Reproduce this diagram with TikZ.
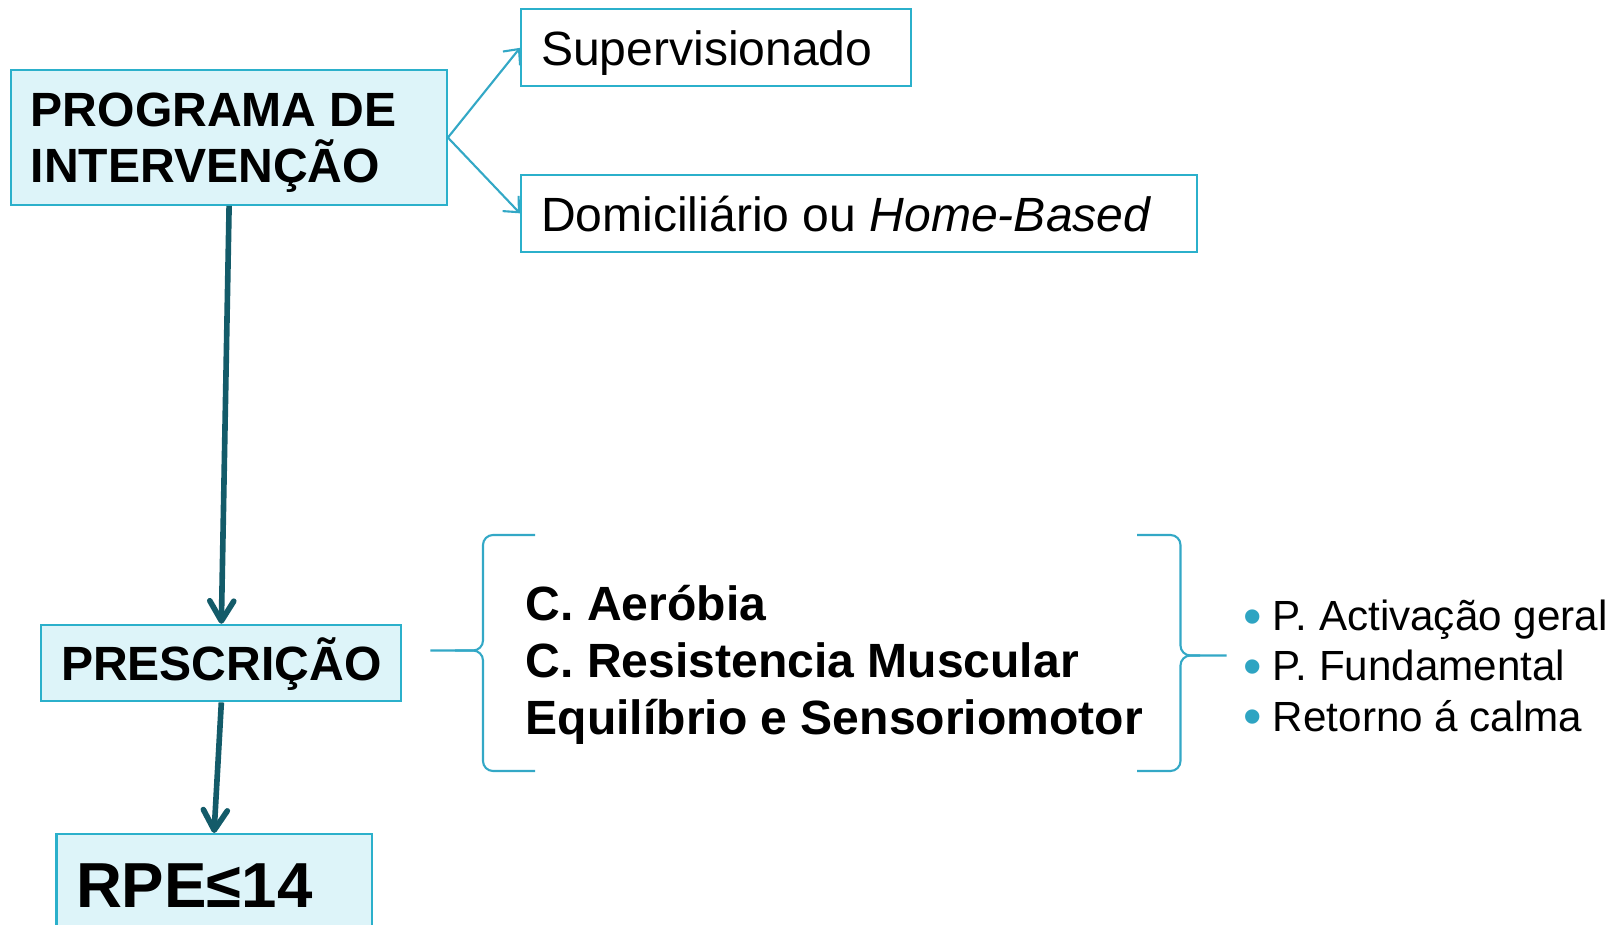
\documentclass[tikz,border=0pt]{standalone}
\usepackage{fontspec}
\setmainfont{Liberation Sans}
\usetikzlibrary{arrows.meta}
\frenchspacing

\definecolor{boxline}{HTML}{2BB0CB}
\definecolor{boxfill}{HTML}{DDF4F9}
\definecolor{linkcol}{HTML}{33A8C6}
\definecolor{flowcol}{HTML}{135B69}
\definecolor{bulcol}{HTML}{2EA4C2}

\newcommand\boxfont{\fontsize{13.68}{16.2}\selectfont}
\newcommand\rpefont{\fontsize{18.1}{21}\selectfont}
\newcommand\listfont{\fontsize{12.0}{14.3}\selectfont}
\newcommand\bul{\raisebox{-1pt}{\fontsize{15}{14.3}\selectfont\color{bulcol}•}\hspace{0.11cm}}

\begin{document}
\begin{tikzpicture}[>=Latex, scale=1,
  box/.style={draw=boxline, line width=0.6pt, fill=boxfill, anchor=north west,
    inner ysep=0pt, inner xsep=0.21cm, align=flush left},
  plainbox/.style={box, fill=white, font=\boxfont, text height=0.562cm, text depth=0.208cm},
  link/.style={draw=linkcol, line width=0.6pt, -{Straight Barb[length=0.12cm,width=0.22cm]}},
  flow/.style={draw=flowcol, line width=1.6pt, -{Straight Barb[length=0.2cm,width=0.24cm,round]}},
  brace/.style={draw=linkcol, line width=0.6pt, rounded corners=0.1cm}]

  \useasboundingbox (0,0) rectangle (16.22,-9.25);
  \clip (0,0) rectangle (16.22,-9.25);

  \node[box, text width=3.965cm, inner xsep=0.195cm, text height=0.557cm, text depth=0.788cm,
    font=\bfseries\boxfont] (prog) at (0.103,-0.693) {PROGRAMA DE\\INTERVENÇÃO};
  \node[plainbox, text width=3.50cm, inner xsep=0.20cm] (sup) at (5.20,-0.083) {Supervisionado};
  \node[plainbox, text width=6.36cm, inner xsep=0.20cm] (dom) at (5.20,-1.738) {Domiciliário ou \textit{Home-Based}};

  \node[box, minimum width=3.60cm, inner xsep=0pt, align=center, text height=0.558cm, text depth=0.207cm,
    font=\bfseries\boxfont] (presc) at (0.403,-6.238) {PRESCRIÇÃO};
  \node[box, text width=2.76cm, inner xsep=0.195cm, text height=0.73cm, text depth=0.6cm,
    font=\bfseries\rpefont] (rpe) at (0.555,-8.33) {RPE≤14};

  \node[anchor=north west, inner sep=0pt, text width=6.3cm, align=flush left, text height=0.5cm,
    font=\bfseries\boxfont] (comp) at (5.25,-5.696) {C. Aeróbia\\C. Resistencia Muscular\\Equilíbrio e Sensoriomotor};
  \node[anchor=north west, inner sep=0pt, text width=3.79cm, align=flush left, text height=0.4cm,
    font=\listfont] (parts) at (12.428,-5.90) {\bul P. Activação geral\\\bul P. Fundamental\\\bul Retorno á calma};

  \draw[link] (prog.east) -- (sup.west);
  \draw[link] (prog.east) -- (dom.west);

  \draw[flow] (prog.south) -- (presc.north);
  \draw[flow] (presc.south) -- (rpe.north);

  \draw[brace] (5.35,-5.35) -- (4.83,-5.35) -- (4.83,-6.505) -- (4.303,-6.505);
  \draw[brace] (4.55,-6.505) -- (4.83,-6.505) -- (4.83,-7.71) -- (5.35,-7.71);
  \draw[brace] (11.37,-5.35) -- (11.805,-5.35) -- (11.805,-6.555) -- (12.265,-6.555);
  \draw[brace] (12.0,-6.555) -- (11.805,-6.555) -- (11.805,-7.71) -- (11.37,-7.71);

\end{tikzpicture}
\end{document}
